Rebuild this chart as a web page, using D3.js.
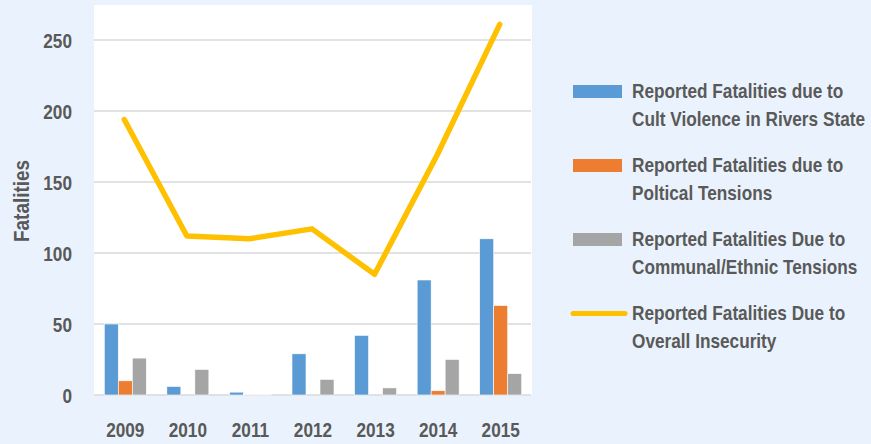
<!DOCTYPE html>
<html>
<head>
<meta charset="utf-8">
<script src="https://cdn.jsdelivr.net/npm/d3@7"></script>
<style>
  body { margin: 0; background: #eaf3fd; }
  text { font-family: "Liberation Sans", Arial, sans-serif; font-weight: bold; fill: #595959; }
</style>
</head>
<body>
<div id="chart"></div>
<script>
// data
const years = ["2009", "2010", "2011", "2012", "2013", "2014", "2015"];
const cult = [50, 6, 2, 29, 42, 81, 110];
const political = [10, 0, 0.5, 0, 0, 3, 63];
const communal = [26, 18, 0.5, 11, 5, 25, 15];
const overall = [194, 112, 110, 117, 85, 169, 261];
const yTicks = [0, 50, 100, 150, 200, 250];

const barSeries = [
  { key: "cult", values: cult, color: "#5b9bd5", label: ["Reported Fatalities due to", "Cult Violence in Rivers State"] },
  { key: "political", values: political, color: "#ed7d31", label: ["Reported Fatalities due to", "Poltical Tensions"] },
  { key: "communal", values: communal, color: "#a5a5a5", label: ["Reported Fatalities Due to", "Communal/Ethnic Tensions"] }
];
const lineLabel = ["Reported Fatalities Due to", "Overall Insecurity"];
const lineColor = "#ffc000";

const width = 871, height = 444;
const plot = { left: 94, right: 532, top: 5, bottom: 395 };
// the original font is a condensed one, so squeeze the text sideways
const squeeze = 0.82;

const svg = d3.select("#chart").append("svg")
  .attr("width", width)
  .attr("height", height);

svg.append("rect").attr("width", width).attr("height", height).attr("fill", "#eaf3fd");
// white plot area
svg.append("rect")
  .attr("x", plot.left).attr("y", plot.top)
  .attr("width", plot.right - plot.left).attr("height", plot.bottom - plot.top)
  .attr("fill", "#fff");

const x = d3.scaleBand().domain(years).range([plot.left, plot.right]);
const x1 = d3.scaleBand().domain(barSeries.map(s => s.key)).range([0, 42]);
const y = d3.scaleLinear().domain([0, 250]).range([plot.bottom, 40]);

// gridlines
svg.append("g").selectAll("line")
  .data(yTicks)
  .enter().append("line")
  .attr("x1", plot.left).attr("x2", plot.right - 1)
  .attr("y1", d => y(d)).attr("y2", d => y(d))
  .attr("stroke", "#d9d9d9").attr("stroke-width", 1.5);

// y axis
const yAxis = svg.append("g")
  .attr("transform", `translate(${plot.left - 22},0)`)
  .call(d3.axisLeft(y).tickValues(yTicks).tickSize(0).tickPadding(0));
yAxis.select(".domain").remove();
yAxis.selectAll("text")
  .style("font-size", "21px")
  .attr("x", 0)
  .attr("dy", "0.36em")
  .attr("transform", `scale(${squeeze},1)`);

// x axis
const xAxis = svg.append("g")
  .attr("transform", `translate(0,${plot.bottom})`)
  .call(d3.axisBottom(x).tickSize(0).tickPadding(0));
xAxis.select(".domain").remove();
xAxis.selectAll("text")
  .style("font-size", "21px")
  .attr("y", 42).attr("dy", 0)
  .attr("transform", `scale(${squeeze},1)`);

svg.append("text")
  .attr("transform", "translate(29,201) rotate(-90) scale(0.86,1)")
  .attr("text-anchor", "middle")
  .style("font-size", "22px")
  .text("Fatalities");

// bars
const groups = svg.append("g").selectAll("g")
  .data(years)
  .enter().append("g")
  .attr("transform", d => `translate(${x(d) + x.bandwidth() / 2 - 21},0)`);

groups.selectAll("rect")
  .data((d, i) => barSeries.map(s => ({ key: s.key, color: s.color, value: s.values[i] })))
  .enter().append("rect")
  .attr("x", d => x1(d.key))
  .attr("width", x1.bandwidth())
  .attr("y", d => y(d.value))
  .attr("height", d => y(0) - y(d.value))
  .attr("fill", d => d.color)
  .attr("stroke", "#fff")
  .attr("stroke-width", 0.6);

// line
const line = d3.line()
  .x((d, i) => x(years[i]) + x.bandwidth() / 2 - 1)
  .y(d => y(d));

svg.append("path")
  .datum(overall)
  .attr("d", line)
  .attr("fill", "none")
  .attr("stroke", lineColor)
  .attr("stroke-width", 5.5)
  .attr("stroke-linejoin", "round")
  .attr("stroke-linecap", "round");

// legend
const legend = svg.append("g").attr("transform", "translate(573,0)");
const entries = barSeries.map(s => ({ color: s.color, label: s.label, line: false }))
  .concat([{ color: lineColor, label: lineLabel, line: true }]);

const item = legend.selectAll("g")
  .data(entries)
  .enter().append("g")
  .attr("transform", (d, i) => `translate(0,${91.5 + i * 74})`);

item.filter(d => !d.line).append("rect")
  .attr("x", 0).attr("y", -6.5)
  .attr("width", 49).attr("height", 13)
  .attr("fill", d => d.color);

item.filter(d => d.line).append("line")
  .attr("x1", 0).attr("x2", 52)
  .attr("stroke", d => d.color)
  .attr("stroke-width", 5)
  .attr("stroke-linecap", "round");

item.append("text")
  .attr("transform", `translate(59,6) scale(${squeeze},1)`)
  .style("font-size", "21px")
  .selectAll("tspan")
  .data(d => d.label)
  .enter().append("tspan")
  .attr("x", 0)
  .attr("dy", (d, i) => i === 0 ? 0 : 28.5)
  .text(d => d);
</script>
</body>
</html>
